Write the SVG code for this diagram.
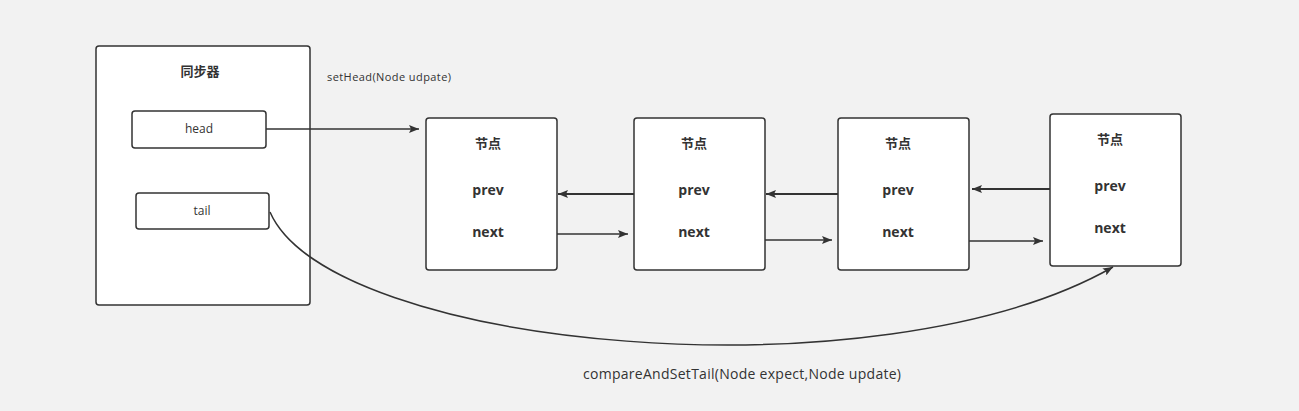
<svg xmlns="http://www.w3.org/2000/svg" width="1299" height="411" viewBox="0 0 1299 411">
<defs>
<marker id="ah" viewBox="0 0 10 8" refX="10" refY="4" markerWidth="10" markerHeight="8" markerUnits="userSpaceOnUse" orient="auto">
<path d="M0,0 L10,4 L0,8 L2,4 Z" fill="#333"/>
</marker>
<style>
.box{fill:#fff;stroke:#333;stroke-width:1.5}
.t{font-family:"Open Sans","Noto Sans CJK SC",sans-serif;fill:#333;text-anchor:middle;dominant-baseline:central}
.small{font-size:12px}
.b{font-size:14px;font-weight:bold}
.cn{font-family:"Noto Sans CJK SC",sans-serif;font-size:13px;font-weight:bold}
.edge{fill:none;stroke:#333;stroke-width:1.5;marker-end:url(#ah)}
.lbl{font-family:"Open Sans","Noto Sans CJK SC",sans-serif;fill:#333}
</style>
</defs>
<rect width="1299" height="411" fill="#f2f2f2"/>
<g id="sync">
<rect class="box" x="96" y="46" width="214" height="259" rx="3"/>
<text class="t cn" x="200" y="70">同步器</text>
</g>
<g id="head">
<rect class="box" x="132" y="111" width="134" height="37" rx="3"/>
<text class="t small" x="199" y="128">head</text>
</g>
<g id="tail">
<rect class="box" x="136" y="193" width="133" height="36" rx="3"/>
<text class="t small" x="202" y="210">tail</text>
</g>
<g id="node1">
<rect class="box" x="426" y="118" width="131" height="152" rx="3"/>
<text class="t cn" x="488" y="142">节点</text>
<text class="t b" x="488" y="189">prev</text>
<text class="t b" x="488" y="231">next</text>
</g>
<g id="node2">
<rect class="box" x="634" y="118" width="131" height="152" rx="3"/>
<text class="t cn" x="694" y="142">节点</text>
<text class="t b" x="694" y="189">prev</text>
<text class="t b" x="694" y="231">next</text>
</g>
<g id="node3">
<rect class="box" x="838" y="118" width="131" height="152" rx="3"/>
<text class="t cn" x="898" y="142">节点</text>
<text class="t b" x="898" y="189">prev</text>
<text class="t b" x="898" y="231">next</text>
</g>
<g id="node4">
<rect class="box" x="1050" y="114" width="131" height="152" rx="3"/>
<text class="t cn" x="1110" y="138">节点</text>
<text class="t b" x="1110" y="185">prev</text>
<text class="t b" x="1110" y="227">next</text>
</g>
<g id="connectors">
<path class="edge" d="M266,129 L419,129"/>
<path class="edge" style="stroke-width:2" d="M634,194 L558,194"/>
<path class="edge" style="stroke-width:2" d="M838,194 L766,194"/>
<path class="edge" style="stroke-width:2" d="M1050,189 L972,189"/>
<path class="edge" d="M557,234 L628,234"/>
<path class="edge" d="M765,240 L832,240"/>
<path class="edge" d="M969,241 L1043,241"/>
<path class="edge" d="M270,212 C330,350 880,400 1113,267"/>
</g>
<g id="labels">
<text class="lbl" x="327" y="81" font-size="11" textLength="124">setHead(Node udpate)</text>
<text class="lbl" x="583" y="379" font-size="14" textLength="318">compareAndSetTail(Node expect,Node update)</text>
</g>
</svg>
